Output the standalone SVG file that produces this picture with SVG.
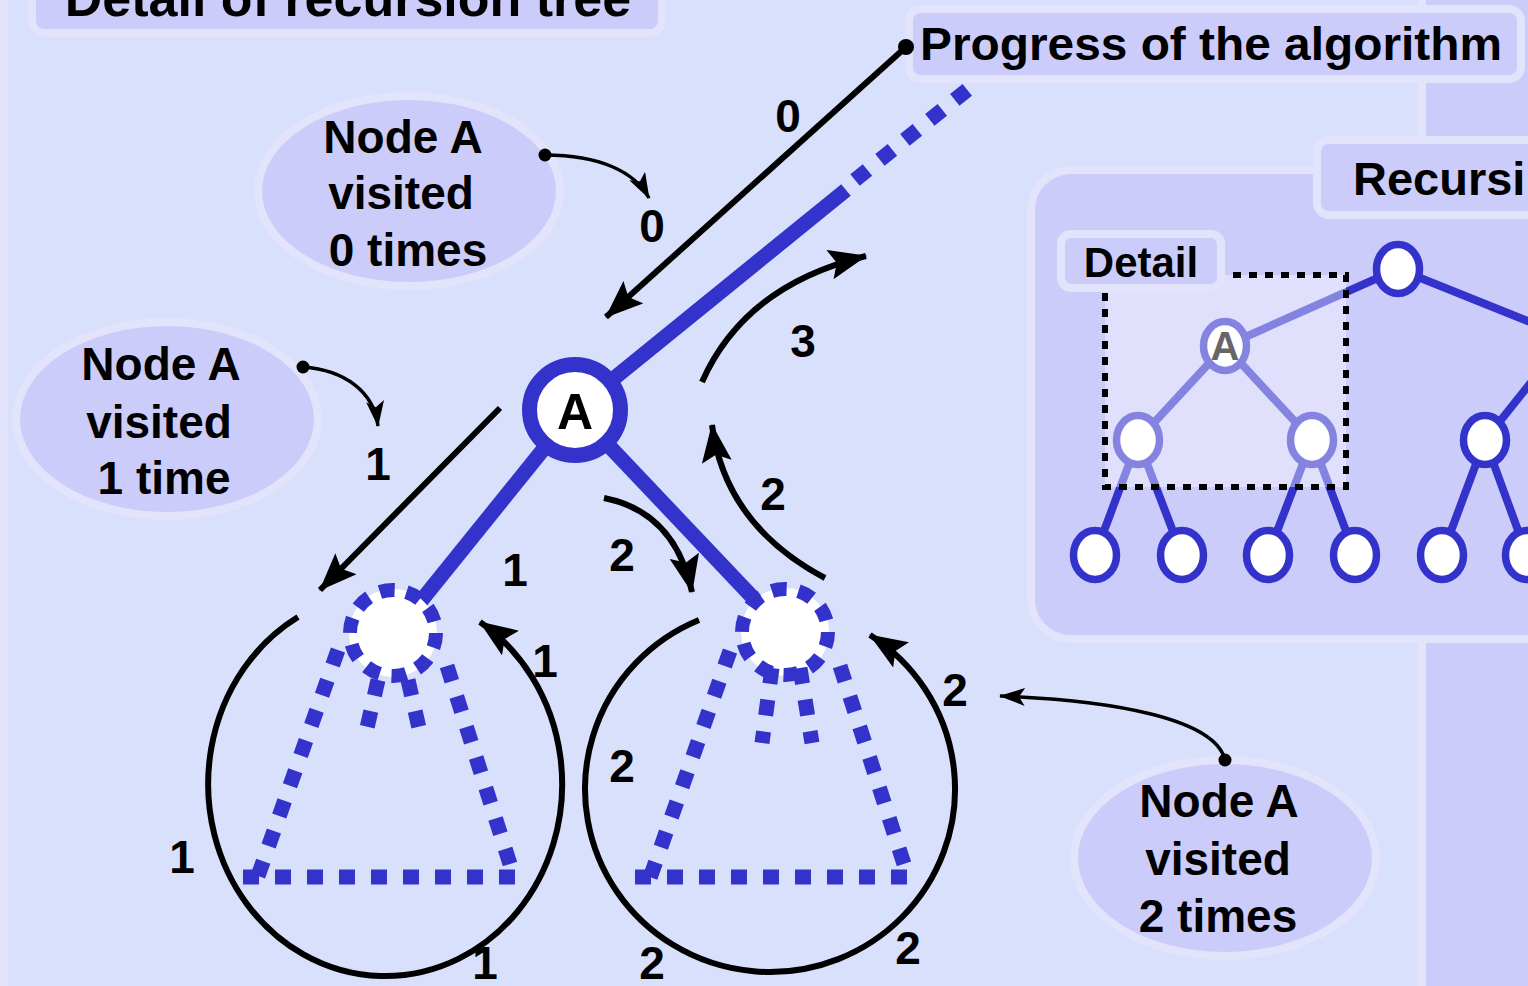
<svg xmlns="http://www.w3.org/2000/svg" width="1528" height="986" viewBox="0 0 1528 986">
<defs>
<style>
.t{font-family:"Liberation Sans",Arial,sans-serif;font-weight:bold;fill:#000}
.lbl{font-size:46px;text-anchor:middle}
.panel{fill:#ccccfa;stroke:#e3e3fb;stroke-width:8}
.arr{stroke:#000;stroke-width:6;fill:none;marker-end:url(#big)}
.ptr{stroke:#000;stroke-width:3.5;fill:none;marker-end:url(#small)}
.dl{stroke:#3333cc;stroke-width:15;stroke-dasharray:16 16;fill:none}
.ring{fill:none;stroke:#3333cc;stroke-width:14;stroke-dasharray:15 12}
.edge{stroke:#3333cc;stroke-width:15;fill:none}
.tn{fill:#fff;stroke:#3333cc;stroke-width:7.5}
.te{stroke:#3333cc;stroke-width:8}
</style>
<marker id="big" markerUnits="userSpaceOnUse" markerWidth="38" markerHeight="30" refX="37" refY="15" orient="auto"><path d="M0,0 L38,15 L0,30 L7,15 Z" fill="#000"/></marker>
<marker id="small" markerUnits="userSpaceOnUse" markerWidth="26" markerHeight="18" refX="25" refY="9" orient="auto"><path d="M0,0 L26,9 L0,18 L6,9 Z" fill="#000"/></marker>
</defs>

<rect width="1528" height="986" fill="#ccccfa"/>
<g id="main-panel">
<rect x="4" y="-30" width="1418" height="1100" rx="24" fill="#d9e0fc" stroke="#e3e3fb" stroke-width="8"/>
</g>
<g id="title">
<rect class="panel" x="32" y="-40" width="630" height="73" rx="12"/>
<text class="t" x="348" y="16" font-size="52" text-anchor="middle">Detail of recursion tree</text>
</g>

<g id="recursion-panel">
<rect class="panel" x="1031" y="170" width="620" height="469" rx="40"/>
<g id="mini-edges">
<line class="te" x1="1398" y1="269" x2="1540" y2="326"/>
<line class="te" x1="1398" y1="269" x2="1225" y2="346"/>
<line class="te" x1="1225" y1="346" x2="1138" y2="440"/>
<line class="te" x1="1225" y1="346" x2="1312" y2="440"/>
<line class="te" x1="1138" y1="440" x2="1095" y2="555"/>
<line class="te" x1="1138" y1="440" x2="1182" y2="555"/>
<line class="te" x1="1312" y1="440" x2="1268" y2="555"/>
<line class="te" x1="1312" y1="440" x2="1355" y2="555"/>
<line class="te" x1="1485" y1="440" x2="1540" y2="371"/>
<line class="te" x1="1485" y1="440" x2="1442" y2="555"/>
<line class="te" x1="1485" y1="440" x2="1527" y2="555"/>
</g>
<g id="mini-root"><ellipse class="tn" cx="1398" cy="269" rx="21.5" ry="24.5"/></g>
<g id="mini-A"><ellipse class="tn" cx="1225" cy="346" rx="21.5" ry="24.5"/><text class="t" x="1225" y="360" font-size="40" text-anchor="middle">A</text></g>
<g id="mini-n1"><ellipse class="tn" cx="1138" cy="440" rx="21.5" ry="24.5"/></g>
<g id="mini-n2"><ellipse class="tn" cx="1312" cy="440" rx="21.5" ry="24.5"/></g>
<g id="mini-n3"><ellipse class="tn" cx="1485" cy="440" rx="21.5" ry="24.5"/></g>
<g id="mini-l1"><ellipse class="tn" cx="1095" cy="555" rx="21.5" ry="24.5"/></g>
<g id="mini-l2"><ellipse class="tn" cx="1182" cy="555" rx="21.5" ry="24.5"/></g>
<g id="mini-l3"><ellipse class="tn" cx="1268" cy="555" rx="21.5" ry="24.5"/></g>
<g id="mini-l4"><ellipse class="tn" cx="1355" cy="555" rx="21.5" ry="24.5"/></g>
<g id="mini-l5"><ellipse class="tn" cx="1442" cy="555" rx="21.5" ry="24.5"/></g>
<g id="mini-l6"><ellipse class="tn" cx="1527" cy="555" rx="21.5" ry="24.5"/></g>
<g id="detail-box">
<rect x="1105" y="275" width="241" height="212" fill="#fff" fill-opacity="0.4"/>
<rect x="1105" y="275" width="241" height="212" fill="none" stroke="#000" stroke-width="6" stroke-dasharray="8 8"/>
</g>
<g id="detail-label">
<rect class="panel" x="1061" y="234" width="160" height="54" rx="10"/>
<text class="t" x="1141" y="277" font-size="42" text-anchor="middle">Detail</text>
</g>
</g>

<g id="progress-label">
<rect class="panel" x="909" y="9" width="612" height="70" rx="12"/>
<text class="t" x="920" y="60" font-size="47" textLength="582" lengthAdjust="spacingAndGlyphs">Progress of the algorithm</text>
</g>
<g id="recursion-label">
<rect class="panel" x="1317" y="140" width="300" height="75" rx="12"/>
<text class="t" x="1353" y="195" font-size="47">Recursi</text>
</g>

<g id="note0">
<ellipse class="panel" cx="409" cy="191" rx="151" ry="95"/>
<text class="t" font-size="46" text-anchor="middle"><tspan x="403" y="153">Node A</tspan><tspan x="401" y="209">visited</tspan><tspan x="408" y="266">0 times</tspan></text>
</g>
<g id="note1">
<ellipse class="panel" cx="167" cy="419" rx="151" ry="97"/>
<text class="t" font-size="46" text-anchor="middle"><tspan x="161" y="380">Node A</tspan><tspan x="159" y="438">visited</tspan><tspan x="164" y="494">1 time</tspan></text>
</g>
<g id="note2">
<ellipse class="panel" cx="1225" cy="858" rx="151" ry="98"/>
<text class="t" font-size="46" text-anchor="middle"><tspan x="1219" y="817">Node A</tspan><tspan x="1218" y="875">visited</tspan><tspan x="1218" y="932">2 times</tspan></text>
</g>

<g id="connectors">
<line class="edge" x1="575" y1="410" x2="846" y2="190" stroke-width="16"/>
<line class="dl" x1="855" y1="180" x2="972" y2="86"/>
<line class="edge" x1="575" y1="410" x2="421" y2="601"/>
<line class="edge" x1="575" y1="410" x2="757" y2="602"/>

<line class="arr" x1="906" y1="47" x2="606" y2="317"/>
<circle cx="906" cy="47" r="8" fill="#000"/>
<line class="arr" x1="500" y1="408" x2="320" y2="590"/>
<path class="arr" d="M702,382 Q745,285 866,256"/>
<path class="arr" d="M604,498 Q675,512 692,592"/>
<path class="arr" d="M825,578 Q725,525 712,425"/>
<path class="arr" d="M298,617 A177,192 0 1 0 480,622"/>
<path class="arr" d="M699,620 A185,183 0 1 0 870,635"/>

<path class="ptr" d="M545,155 C600,155 635,172 649,198"/>
<circle cx="545" cy="155" r="6.5" fill="#000"/>
<path class="ptr" d="M303,367 C345,370 374,392 378,426"/>
<circle cx="303" cy="367" r="6.5" fill="#000"/>
<path class="ptr" d="M1225,760 C1215,718 1110,700 1000,696"/>
<circle cx="1225" cy="760" r="6.5" fill="#000"/>
</g>

<g id="nodeA">
<circle cx="575" cy="410" r="45.5" fill="#fff" stroke="#3333cc" stroke-width="15"/>
<text class="t" x="575" y="429" font-size="50" text-anchor="middle">A</text>
</g>

<g id="left-child">
<circle cx="393" cy="633" r="44" fill="#fff"/>
<circle class="ring" cx="393" cy="633" r="43"/>
<line class="dl" x1="338" y1="650" x2="258" y2="876"/>
<line class="dl" x1="447" y1="666" x2="510" y2="864"/>
<line class="dl" x1="243" y1="877" x2="515" y2="877"/>
<line class="dl" x1="378" y1="680" x2="367" y2="728"/>
<line class="dl" x1="408" y1="680" x2="419" y2="728"/>
</g>
<g id="right-child">
<circle cx="785" cy="632" r="44" fill="#fff"/>
<circle class="ring" cx="785" cy="632" r="43"/>
<line class="dl" x1="730" y1="651" x2="650" y2="878"/>
<line class="dl" x1="840" y1="666" x2="904" y2="864"/>
<line class="dl" x1="635" y1="877" x2="907" y2="877"/>
<line class="dl" x1="772" y1="668" x2="762" y2="743"/>
<line class="dl" x1="800" y1="668" x2="812" y2="743"/>
</g>

<g id="labels" class="t lbl">
<text x="788" y="132">0</text>
<text x="652" y="242">0</text>
<text x="803" y="357">3</text>
<text x="378" y="480">1</text>
<text x="515" y="586">1</text>
<text x="622" y="571">2</text>
<text x="773" y="510">2</text>
<text x="545" y="677">1</text>
<text x="182" y="873">1</text>
<text x="485" y="979">1</text>
<text x="622" y="782">2</text>
<text x="652" y="979">2</text>
<text x="908" y="964">2</text>
<text x="955" y="706">2</text>
</g>
</svg>
